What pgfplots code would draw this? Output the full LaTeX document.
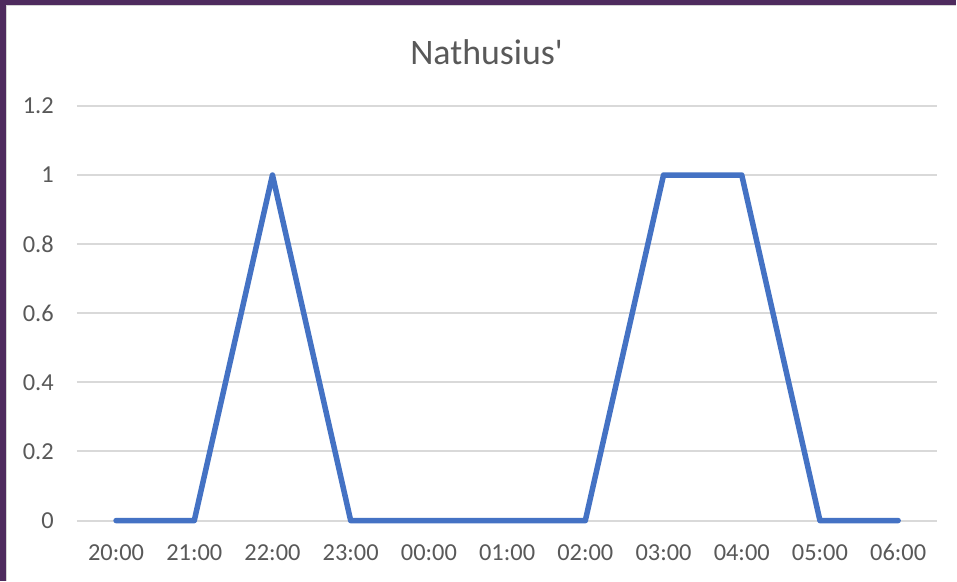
\documentclass[border=0pt]{standalone}
\usepackage{fontspec}
\setmainfont{Carlito}
\usepackage{pgfplots}
\pgfplotsset{compat=1.18}
\definecolor{lineblue}{HTML}{4472C4}
\definecolor{gridgrey}{HTML}{D9D9D9}
\definecolor{labelgrey}{HTML}{595959}
\definecolor{framepurple}{HTML}{4E2B5E}
\definecolor{edgegrey}{HTML}{D4D4D4}

\begin{document}
\begin{tikzpicture}
% window frame around the chart
\fill[framepurple] (0bp,0bp) rectangle (957bp,581bp);
\fill[white] (7bp,0bp) rectangle (957bp,575bp);
\draw[edgegrey, line width=1.5bp] (6.75bp,0bp) -- (6.75bp,575.25bp) -- (957bp,575.25bp);

\node[labelgrey, font=\fontsize{36}{40}\selectfont] at (487bp,529bp) {Nathusius\textquotesingle};

\begin{axis}[
  at={(77bp,60bp)}, anchor=south west,
  scale only axis,
  width=861bp, height=415bp,
  xmin=-0.5, xmax=10.5,
  ymin=0, ymax=1.2,
  xtick={0,...,10},
  xticklabels={20:00,21:00,22:00,23:00,00:00,01:00,02:00,03:00,04:00,05:00,06:00},
  ytick={0,0.2,0.4,0.6,0.8,1,1.2},
  yticklabels={0,0.2,0.4,0.6,0.8,1,1.2},
  axis line style={draw=none},
  major tick length=0pt,
  ymajorgrids,
  grid style={gridgrey, line width=2bp},
  ticklabel style={labelgrey, font=\fontsize{24.5}{28}\selectfont, inner sep=0pt},
  yticklabel style={anchor=east, xshift=-23bp},
  xticklabel style={anchor=base, yshift=-40bp},
  /pgf/number format/assume math mode=true,
  clip=false,
]
\addplot[lineblue, line width=5.5bp, line cap=round, line join=round] coordinates {
  (0,0) (1,0) (2,1) (3,0) (4,0) (5,0) (6,0) (7,1) (8,1) (9,0) (10,0)
};
\end{axis}
\end{tikzpicture}
\end{document}
